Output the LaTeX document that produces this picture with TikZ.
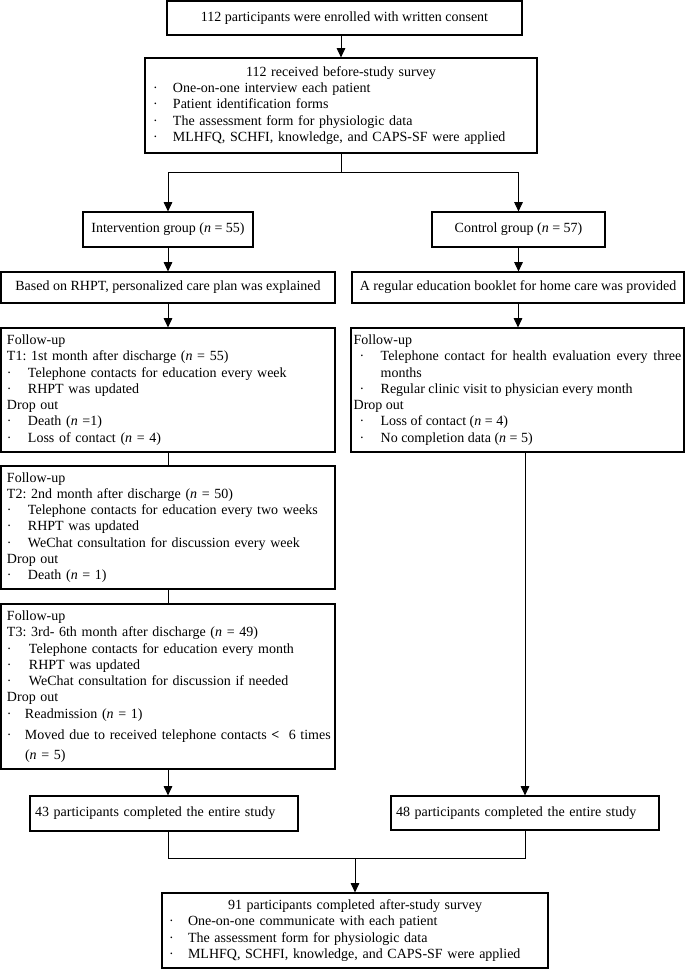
\documentclass[tikz,border=0pt]{standalone}
\usepackage{fontspec}
\setmainfont{Liberation Serif}
\usetikzlibrary{arrows.meta}
\frenchspacing
\newcommand{\bitem}[3][0pt]{\par\noindent\hangindent=#2\hangafter=1\makebox[#2][l]{\hspace*{#1}·}#3}
\newcommand{\ttl}[1]{\noindent\makebox[\hsize]{#1}\par}
\tikzset{
  box/.style={draw, line width=0.9pt, inner ysep=0pt,
    font={\fontsize{10.5}{12.2}\selectfont},
    execute at begin node={\parindent=0pt\tolerance=3000\frenchspacing}},
  arr/.style={line width=0.6pt, -{Triangle[length=7pt,width=6.5pt]}},
  ln/.style={line width=0.6pt},
}
\begin{document}
\begin{tikzpicture}[x=0.75pt,y=-0.75pt]
\useasboundingbox (0,0) rectangle (686,970);

% top boxes
\node[box, minimum width=266.25pt, minimum height=25.5pt] (b1) at (344.5,18)
  {112 participants were enrolled with written consent};
\node[box, text width=282pt, inner xsep=6pt, minimum height=71.25pt, align=left] (b2) at (341,105.5)
  {\ttl{112 received before-study survey}%
   \bitem{15pt}{One-on-one interview each patient}%
   \bitem{15pt}{Patient identification forms}%
   \bitem{15pt}{The assessment form for physiologic data}%
   \bitem{15pt}{MLHFQ, SCHFI, knowledge, and CAPS-SF were applied}};

% groups
\node[box, minimum width=127.5pt, minimum height=26.25pt] (interv) at (168,229.5)
  {Intervention group (\textit{n} = 55)};
\node[box, minimum width=129.75pt, minimum height=26.25pt] (ctrl) at (518.5,229.5)
  {Control group (\textit{n} = 57)};
\node[box, minimum width=250.5pt, minimum height=23.25pt] (based) at (168,287.5)
  {Based on RHPT, personalized care plan was explained};
\node[box, minimum width=249pt, minimum height=23.25pt] (regular) at (518,287.5)
  {A regular education booklet for home care was provided};

% intervention follow-ups
\node[box, text width=241.5pt, inner xsep=4.5pt, minimum height=93pt, align=left] (t1) at (168,390)
  {Follow-up\par
   T1: 1st month after discharge (\textit{n} = 55)%
   \bitem{15.75pt}{Telephone contacts for education every week}%
   \bitem{15.75pt}{RHPT was updated}\par
   Drop out%
   \bitem{15.75pt}{Death (\textit{n} =1)}%
   \bitem{15.75pt}{Loss of contact (\textit{n} = 4)}};
\node[box, text width=241.5pt, inner xsep=4.5pt, minimum height=92.25pt, align=left] (t2) at (168,527.5)
  {Follow-up\par
   T2: 2nd month after discharge (\textit{n} = 50)%
   \bitem{15.75pt}{Telephone contacts for education every two weeks}%
   \bitem{15.75pt}{RHPT was updated}%
   \bitem{15.75pt}{WeChat consultation for discussion every week}\par
   Drop out%
   \bitem{15.75pt}{Death (\textit{n} = 1)}};
\node[box, text width=241.5pt, inner xsep=4.5pt, minimum height=123.75pt, align=left] (t3) at (168,686.5)
  {Follow-up\par
   T3: 3rd- 6th month after discharge (\textit{n} = 49)%
   \bitem{16.5pt}{Telephone contacts for education every month}%
   \bitem{16.5pt}{RHPT was updated}%
   \bitem{16.5pt}{WeChat consultation for discussion if needed}\par
   Drop out%
   \bitem{13.5pt}{Readmission (\textit{n} = 1)}\par\vspace{3.5pt}%
   \bitem{13.5pt}{\mbox{Moved due to received telephone contacts \textbf{<}\hspace{7pt}6 times}}\par\vspace{2.8pt}%
   \noindent\hspace*{13.5pt}(\textit{n} = 5)};

% control follow-up
\node[box, text width=245.75pt, inner xsep=2pt, minimum height=93pt, align=justify] (cfu) at (517.5,390)
  {Follow-up%
   \bitem[4.5pt]{20.25pt}{Telephone contact for health evaluation every three months}%
   \bitem[4.5pt]{20.25pt}{Regular clinic visit to physician every month}\par
   Drop out%
   \bitem[4.5pt]{20.25pt}{Loss of contact (\textit{n} = 4)}%
   \bitem[4.5pt]{20.25pt}{No completion data (\textit{n} = 5)}};

% completion boxes
\node[box, text width=193.5pt, inner xsep=3.75pt, minimum height=26.25pt, align=left] (c43) at (164,813.5)
  {43 participants completed the entire study};
\node[box, text width=193.5pt, inner xsep=3.75pt, minimum height=25.5pt, align=left] (c48) at (525,813)
  {48 participants completed the entire study};

% final box
\node[box, text width=279pt, inner xsep=5.25pt, minimum height=56.25pt, align=left] (fin) at (355,930.5)
  {\ttl{91 participants completed after-study survey}%
   \bitem{14.25pt}{One-on-one communicate with each patient}%
   \bitem{14.25pt}{The assessment form for physiologic data}%
   \bitem{14.25pt}{MLHFQ, SCHFI, knowledge, and CAPS-SF were applied}};

% connectors
\coordinate (split) at (341,172);
\coordinate (j1) at (168,858);
\coordinate (j2) at (525,858);
\coordinate (jm) at (355,858);

\draw[arr] (b2.north |- b1.south) -- (b2.north);
\draw[ln] (b2.south) -- (split);
\draw[arr] (split) -| (interv.north);
\draw[arr] (split) -| (ctrl.north);
\draw[arr] (interv.south) -- (based.north);
\draw[arr] (ctrl.south) -- (ctrl.south |- regular.north);
\draw[arr] (based.south) -- (t1.north);
\draw[arr] (regular.south) -- (regular.south |- cfu.north);
\draw[ln] (t1.south) -- (t2.north);
\draw[ln] (t2.south) -- (t3.north);
\draw[arr] (t3.south) -- (t3.south |- c43.north);
\draw[arr] (c48.north |- cfu.south) -- (c48.north);
\draw[ln] (t3.south |- c43.south) -- (j1) -- (j2) -- (c48.south);
\draw[arr] (jm) -- (fin.north);
\end{tikzpicture}
\end{document}
